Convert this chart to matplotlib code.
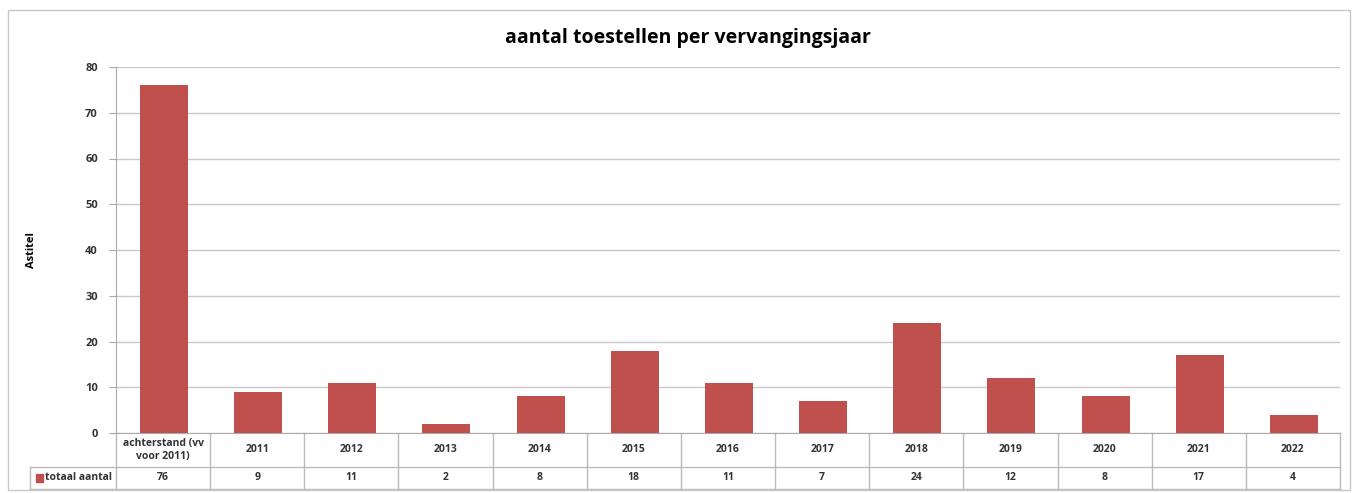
import matplotlib
matplotlib.use("Agg")
import matplotlib.pyplot as plt
from matplotlib.patches import Rectangle
from matplotlib.lines import Line2D

categories = ["achterstand (vv\nvoor 2011)", "2011", "2012", "2013", "2014", "2015", "2016",
              "2017", "2018", "2019", "2020", "2021", "2022"]
values = [76, 9, 11, 2, 8, 18, 11, 7, 24, 12, 8, 17, 4]
series_name = "totaal aantal"
title = "aantal toestellen per vervangingsjaar"
ylabel = "Astitel"
yticks = [0, 10, 20, 30, 40, 50, 60, 70, 80]

plt.rcParams['font.family'] = ['Open Sans', 'DejaVu Sans']
W, H = 1357, 493
fig = plt.figure(figsize=(W / 100, H / 100), dpi=100)
bar_color = "#C0504D"
grid_color = "#C8C8C8"

# outer chart border
fig.add_artist(Rectangle((8 / W, 1 - 490 / H), (1350 - 8) / W, (490 - 10) / H,
                         transform=fig.transFigure, fill=False, edgecolor="#C8C8C8", lw=1))

left, right, top, bottom = 116, 1340, 67, 433
ax = fig.add_axes([left / W, 1 - bottom / H, (right - left) / W, (bottom - top) / H])
n = len(categories)
x = list(range(n))
ax.bar([i + 0.01 for i in x], values, width=0.51, color=bar_color, zorder=3)
ax.set_xlim(-0.5, n - 0.5)
ax.set_ylim(0, 80)
ax.set_yticks(yticks)
ax.set_yticklabels([str(t) for t in yticks], fontsize=8, fontweight="bold", color="#333333")
ax.yaxis.grid(True, color=grid_color, lw=1, zorder=0)
ax.set_xticks([])
for s in ["top", "right"]:
    ax.spines[s].set_visible(False)
ax.spines["left"].set_color("#AAAAAA")
ax.spines["bottom"].set_color("#AAAAAA")
ax.tick_params(axis="y", length=5, color="#AAAAAA", pad=8)
fig.text(688 / W, 1 - 38 / H, title, fontsize=14, fontweight="bold", ha="center", va="center")
fig.text(31 / W, 1 - 250 / H, ylabel, rotation=90, fontsize=8, fontweight="bold",
         ha="center", va="center")

# data table below the axes
ph = bottom - top
r1 = -(467 - bottom) / ph
r2 = -(489 - bottom) / ph
unit = (right - left) / n
legend_left = -0.5 - (left - 30) / unit
trans = ax.get_xaxis_transform()
lc = "#BBBBBB"
def line(xs, ys):
    ax.add_line(Line2D(xs, ys, transform=trans, color=lc, lw=1, clip_on=False))

line([-0.5, n - 0.5], [r1, r1])
line([legend_left, n - 0.5], [r2, r2])
line([legend_left, -0.5], [r1, r1])
line([legend_left, legend_left], [r1, r2])
for i in range(n + 1):
    line([i - 0.5, i - 0.5], [0, r2])

for i, (c, v) in enumerate(zip(categories, values)):
    ax.text(i, r1 / 2, c, transform=trans, ha="center", va="center", fontsize=7.5,
            fontweight="bold", color="#333333", linespacing=1.3)
    ax.text(i, (r1 + r2) / 2, str(v), transform=trans, ha="center", va="center",
            fontsize=7.5, fontweight="bold", color="#333333")

# legend key in table
key_x = legend_left + 6 / unit
ax.add_patch(Rectangle((key_x, (r1 + r2) / 2 - 0.012), 7 / unit, 0.024,
                       transform=trans, color=bar_color, clip_on=False))
ax.text(key_x + 9 / unit, (r1 + r2) / 2, series_name, transform=trans, ha="left",
        va="center", fontsize=7.5, fontweight="bold", color="#333333")

fig.savefig("out.png", dpi=100)
